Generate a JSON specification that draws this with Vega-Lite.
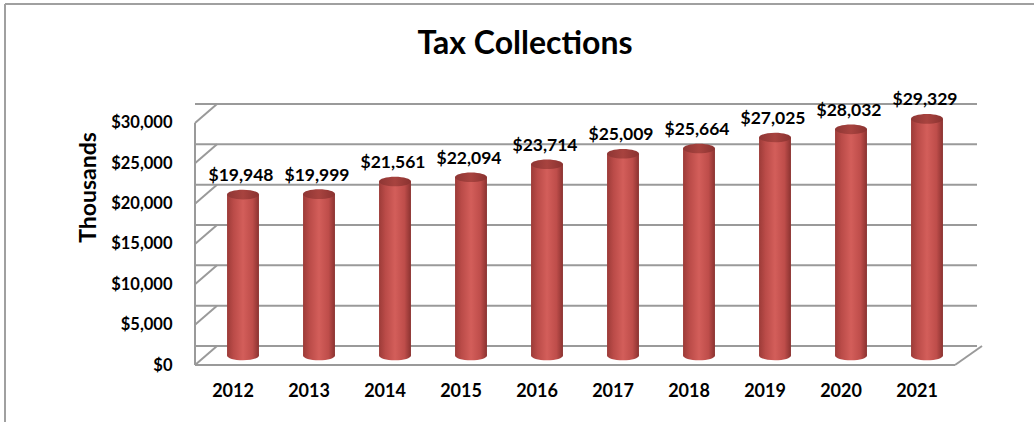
{
  "$schema": "https://vega.github.io/schema/vega-lite/v6.json",
  "width": 760,
  "height": 261,
  "autosize": {"type": "none"},
  "padding": {"left": 195, "top": 104, "right": 79, "bottom": 57},
  "background": "white",
  "title": {
    "text": "Tax Collections",
    "font": "Lato",
    "fontSize": 32,
    "fontWeight": "bold",
    "color": "black",
    "anchor": "middle",
    "dx": -50,
    "offset": -58
  },
  "config": {
    "view": {"stroke": null},
    "axis": {"labelFont": "Lato", "labelFontWeight": "bold", "labelFontSize": 16.5, "labelColor": "black", "titleFont": "Lato", "titleColor": "black"}
  },
  "datasets": {
    "collections": [
      {"year": "2012", "value": 19948},
      {"year": "2013", "value": 19999},
      {"year": "2014", "value": 21561},
      {"year": "2015", "value": 22094},
      {"year": "2016", "value": 23714},
      {"year": "2017", "value": 25009},
      {"year": "2018", "value": 25664},
      {"year": "2019", "value": 27025},
      {"year": "2020", "value": 28032},
      {"year": "2021", "value": 29329}
    ],
    "ticks": [
      {"tick": 0}, {"tick": 5000}, {"tick": 10000}, {"tick": 15000},
      {"tick": 20000}, {"tick": 25000}, {"tick": 30000}
    ]
  },
  "resolve": {"scale": {"x": "independent"}},
  "layer": [
    {
      "data": {"name": "ticks"},
      "mark": {"type": "rule", "color": "#9a9a9a", "strokeWidth": 2, "xOffset": 22, "x2Offset": 27, "yOffset": -19},
      "encoding": {
        "y": {
          "field": "tick", "type": "quantitative",
          "scale": {"domain": [0, 32355], "nice": false, "zero": true},
          "axis": {
            "values": [0, 5000, 10000, 15000, 20000, 25000, 30000],
            "format": "$,.0f",
            "domain": false, "ticks": false, "grid": false,
            "labelPadding": 23,
            "title": "Thousands",
            "titleFontSize": 23,
            "titleFontWeight": "bold",
            "titleX": -107,
            "titleY": 83,
            "titleAngle": -90,
            "titleAlign": "center",
            "titleBaseline": "middle"
          }
        }
      }
    },
    {
      "data": {"values": [{}]},
      "mark": {"type": "rule", "color": "#a0a0a0", "strokeWidth": 2, "xOffset": -190, "x2Offset": 90, "yOffset": -100, "y2Offset": -100},
      "encoding": {
        "x": {"datum": 0, "type": "quantitative", "scale": {"domain": [0, 1]}, "axis": null},
        "x2": {"datum": 1},
        "y": {"datum": 32355, "type": "quantitative"},
        "y2": {"datum": 32355}
      }
    },
    {
      "data": {"values": [{}]},
      "mark": {"type": "rule", "color": "#a0a0a0", "strokeWidth": 2, "xOffset": -190, "yOffset": -100, "y2Offset": 70},
      "encoding": {
        "x": {"datum": 0, "type": "quantitative", "scale": {"domain": [0, 1]}, "axis": null},
        "y": {"datum": 32355, "type": "quantitative"},
        "y2": {"datum": 0}
      }
    },
    {
      "data": {"name": "ticks"},
      "mark": {"type": "rule", "color": "#9a9a9a", "strokeWidth": 2, "x2Offset": 22, "y2Offset": -19},
      "encoding": {
        "x": {"datum": 0, "type": "quantitative", "scale": {"domain": [0, 1]}, "axis": null},
        "x2": {"datum": 0},
        "y": {"field": "tick", "type": "quantitative"},
        "y2": {"field": "tick"}
      }
    },
    {
      "data": {"values": [{}]},
      "mark": {"type": "rule", "color": "#9a9a9a", "strokeWidth": 2},
      "encoding": {
        "x": {"datum": 0, "type": "quantitative", "scale": {"domain": [0, 1]}, "axis": null},
        "y": {"datum": 0, "type": "quantitative"},
        "y2": {"datum": 30000}
      }
    },
    {
      "data": {"values": [{}]},
      "mark": {"type": "rule", "color": "#9a9a9a", "strokeWidth": 2},
      "encoding": {
        "x": {"datum": 0, "type": "quantitative", "scale": {"domain": [0, 1]}, "axis": null},
        "x2": {"datum": 1},
        "y": {"datum": 0, "type": "quantitative"}
      }
    },
    {
      "data": {"values": [{}]},
      "mark": {"type": "rule", "color": "#9a9a9a", "strokeWidth": 2, "x2Offset": 27, "y2Offset": -19},
      "encoding": {
        "x": {"datum": 1, "type": "quantitative", "scale": {"domain": [0, 1]}, "axis": null},
        "x2": {"datum": 1},
        "y": {"datum": 0, "type": "quantitative"},
        "y2": {"datum": 0}
      }
    },
    {
      "data": {"name": "collections"},
      "resolve": {"scale": {"x": "shared"}},
      "encoding": {
        "x": {
          "field": "year", "type": "nominal",
          "scale": {"paddingInner": 0, "paddingOuter": 0},
          "axis": {"title": null, "domain": false, "ticks": false, "labelPadding": 17, "labelAngle": 0, "labelFontSize": 18}
        }
      },
      "layer": [
        {
          "mark": {
            "type": "point", "shape": "M-1,0A1,0.3,0,1,1,1,0A1,0.3,0,1,1,-1,0Z",
            "size": 1024, "filled": true, "opacity": 1, "strokeWidth": 0,
            "xOffset": 10, "yOffset": -9.5,
            "fill": {"gradient": "linear", "x1": 0, "x2": 1, "y1": 0, "y2": 0,
              "stops": [{"offset": 0, "color": "#9C3B38"}, {"offset": 0.2, "color": "#BA4B48"}, {"offset": 0.5, "color": "#D35E5A"}, {"offset": 0.8, "color": "#BE4D4A"}, {"offset": 1, "color": "#8A3230"}]}
          },
          "encoding": {"y": {"datum": 0, "type": "quantitative"}}
        },
        {
          "mark": {
            "type": "bar", "xOffset": 10, "yOffset": -9.5, "y2Offset": -9.5,
            "width": {"band": 0.42},
            "fill": {"gradient": "linear", "x1": 0, "x2": 1, "y1": 0, "y2": 0,
              "stops": [{"offset": 0, "color": "#9C3B38"}, {"offset": 0.2, "color": "#BA4B48"}, {"offset": 0.5, "color": "#D35E5A"}, {"offset": 0.8, "color": "#BE4D4A"}, {"offset": 1, "color": "#8A3230"}]}
          },
          "encoding": {"y": {"field": "value", "type": "quantitative"}}
        },
        {
          "mark": {
            "type": "point", "shape": "M-1,0A1,0.3,0,1,1,1,0A1,0.3,0,1,1,-1,0Z",
            "size": 1024, "filled": true, "opacity": 1, "strokeWidth": 0,
            "xOffset": 10, "yOffset": -9.5,
            "fill": {"gradient": "linear", "x1": 0, "x2": 1, "y1": 0, "y2": 0,
              "stops": [{"offset": 0, "color": "#8E3634"}, {"offset": 0.5, "color": "#A8433F"}, {"offset": 1, "color": "#8A3230"}]}
          },
          "encoding": {"y": {"field": "value", "type": "quantitative"}}
        },
        {
          "mark": {"type": "text", "font": "Lato", "fontWeight": "bold", "fontSize": 17.5, "color": "black", "baseline": "middle", "xOffset": 8, "yOffset": -28},
          "encoding": {
            "y": {"field": "value", "type": "quantitative"},
            "text": {"field": "value", "type": "quantitative", "format": "$,.0f"}
          }
        }
      ]
    }
  ]
}
